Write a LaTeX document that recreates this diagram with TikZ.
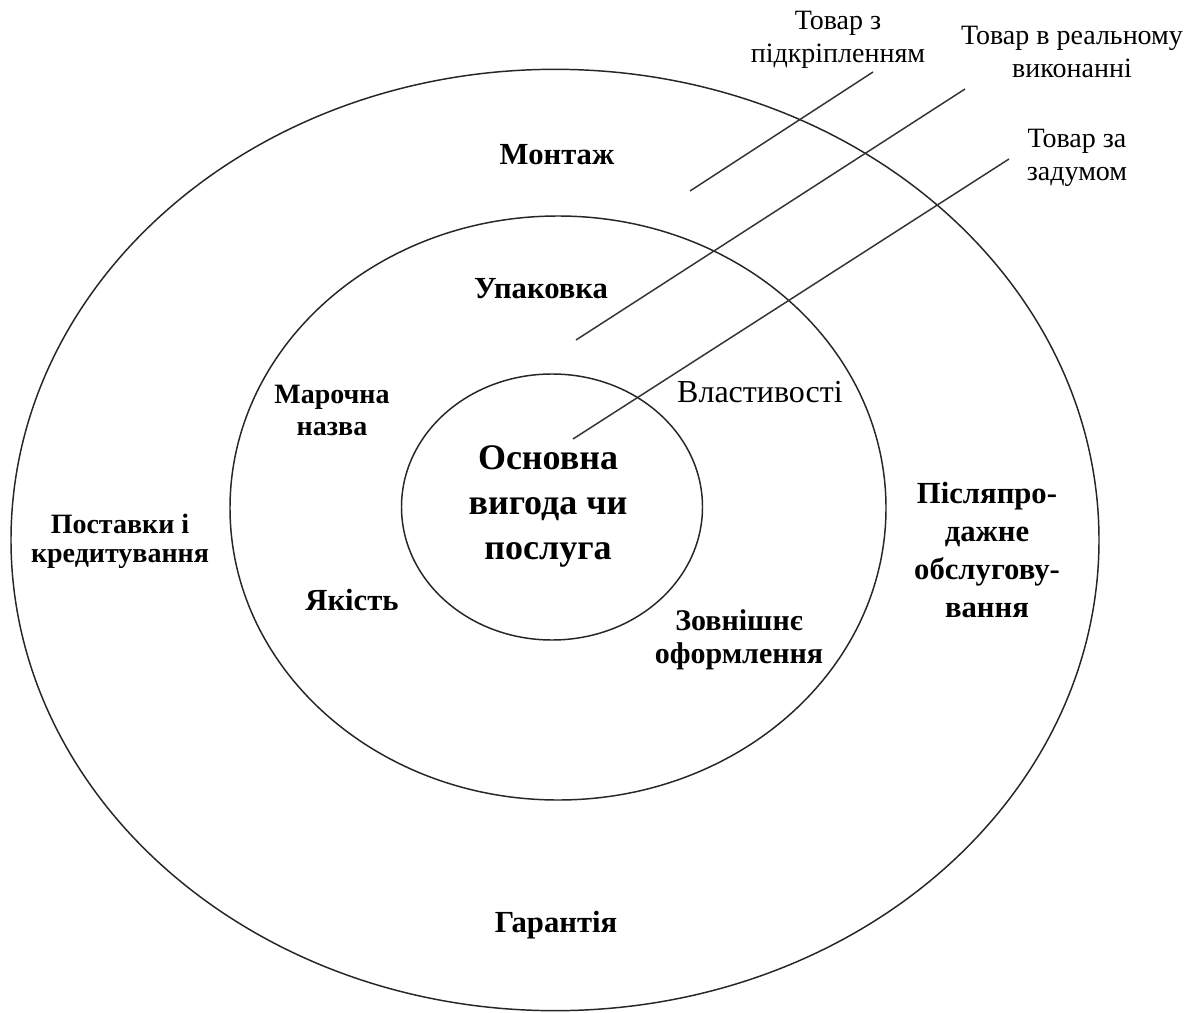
\documentclass[tikz,border=0pt]{standalone}
\usepackage{fontspec}
\setmainfont{Liberation Serif}
\usetikzlibrary{shapes.geometric}
\tikzset{
  ring/.style={draw=black!85, line width=1.1pt, ellipse, inner sep=0pt},
  leader/.style={draw=black!80, line width=1.1pt},
  lbl/.style={font=\bfseries\fontsize{23}{24}\selectfont, align=center, inner sep=0pt, anchor=base},
  toplbl/.style={font=\fontsize{21}{24.75}\selectfont, align=center, inner sep=0pt, anchor=base},
}
\begin{document}
\begin{tikzpicture}[x=0.75pt,y=-0.75pt]
\useasboundingbox[fill=white] (0,0) rectangle (1189,1013);

% three nested levels of the product
\node[ring, minimum width=816pt, minimum height=706pt] (outer) at (555,540) {};
\node[ring, minimum width=492pt, minimum height=438pt] (middle) at (558,508) {};
\node[ring, minimum width=225.75pt, minimum height=199.5pt] (core) at (552,507) {};

% core (multi-line labels sit on the baseline of their last line)
\node[lbl, font=\bfseries\fontsize{27}{33.4}\selectfont] (benefit) at (548,559) {Основна\\вигода чи\\послуга};

% actual product
\node[lbl] (pack) at (541,298) {Упаковка};
\node[lbl, font=\bfseries\fontsize{21}{24}\selectfont] (brand) at (332,435) {Марочна\\назва};
\node[lbl, font=\fontsize{24}{24}\selectfont] (props) at (760,402) {Властивості};
\node[lbl] (quality) at (352,610) {Якість};
\node[lbl, font=\bfseries\fontsize{22.5}{24.75}\selectfont] (design) at (739,663) {Зовнішнє\\оформлення};

% augmented product
\node[lbl] (mount) at (557,165) {Монтаж};
\node[lbl, font=\bfseries\fontsize{21}{21.75}\selectfont] (delivery) at (120,562) {Поставки і\\кредитування};
\node[lbl, font=\bfseries\fontsize{23}{28.5}\selectfont] (service) at (987,617) {Післяпро-\\дажне\\обслугову-\\вання};
\node[lbl] (warranty) at (556,932) {Гарантія};

% level captions
\node[toplbl] (cap1) at (838,63) {Товар з\\підкріпленням};
\node[toplbl] (cap2) at (1072,78) {Товар в реальному\\виконанні};
\node[toplbl] (cap3) at (1077,181) {Товар за\\задумом};

% leader lines
\coordinate (l1a) at (690,191);
\coordinate (l1b) at (873,72);
\coordinate (l2a) at (576,340);
\coordinate (l2b) at (965,89);
\coordinate (l3a) at (573,439);
\coordinate (l3b) at (1009,159);
\draw[leader] (l1a) -- (l1b);
\draw[leader] (l2a) -- (l2b);
\draw[leader] (l3a) -- (l3b);
\end{tikzpicture}
\end{document}
